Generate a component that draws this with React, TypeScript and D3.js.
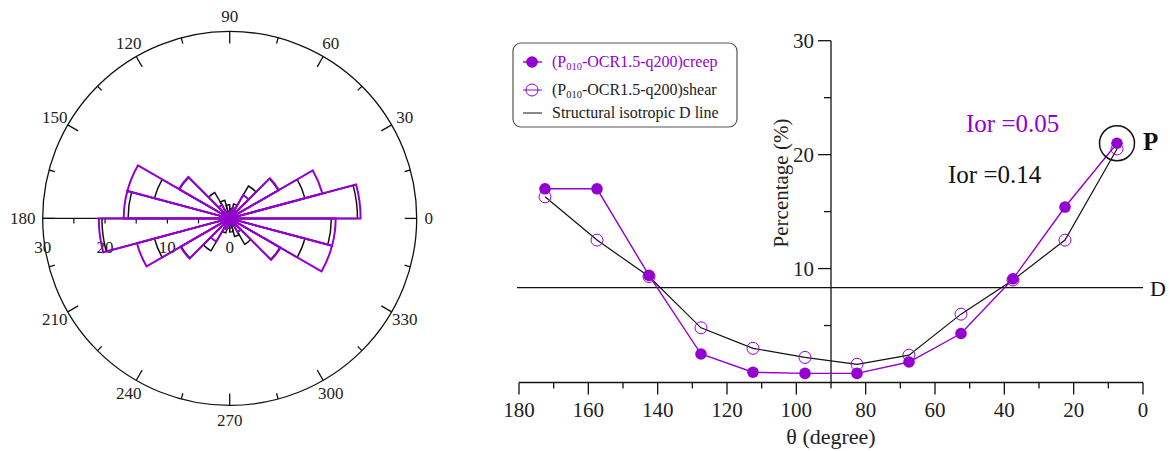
import React from "react";
import * as d3 from "d3";

// ---------- data ----------
const thetaCenters = [7.5, 22.5, 37.5, 52.5, 67.5, 82.5, 97.5, 112.5, 127.5, 142.5, 157.5, 172.5];
const creep = [21.0, 15.4, 9.1, 4.3, 1.8, 0.8, 0.8, 0.9, 2.5, 9.4, 17.0, 17.0];
const shear = [20.5, 12.5, 9.0, 6.0, 2.4, 1.6, 2.2, 3.0, 4.8, 9.3, 12.5, 16.3];
const binWidth = 15;
const isotropicD = 100 / 12;
const xTicks = [180, 170, 160, 150, 140, 130, 120, 110, 100, 90, 80, 70, 60, 50, 40, 30, 20, 10, 0];
const xTickLabels = [180, 160, 140, 120, 100, 80, 60, 40, 20, 0];
const yTicks = [5, 10, 15, 20, 25, 30];
const yTickLabels = [10, 20, 30];
const roseAngleTicks = d3.range(0, 360, 15);
const roseAngleLabels = [0, 30, 60, 90, 120, 150, 180, 210, 240, 270, 300, 330];
const roseRadialTicks = [5, 10, 15, 20, 25];
const roseRadialLabels = [0, 10, 20, 30];

const PURPLE = "#9400d0";
const FONT = "Liberation Serif, Times New Roman, DejaVu Serif, serif";

export default function App() {
  // ---------- rose ----------
  const cx = 229.7, cy = 218.4, R = 187;
  const rr = d3.scaleLinear().domain([0, 30]).range([0, R]);
  const toRad = (deg: number) => (deg * Math.PI) / 180;
  const petal = (thetaStart: number, v: number) =>
    d3.arc()({
      innerRadius: 0,
      outerRadius: rr(v),
      startAngle: Math.PI / 2 - toRad(thetaStart + binWidth),
      endAngle: Math.PI / 2 - toRad(thetaStart),
    } as any) as string;
  const pol = (deg: number, r: number) => [cx + r * Math.cos(toRad(deg)), cy - r * Math.sin(toRad(deg))];

  const petals = (vals: number[]) =>
    thetaCenters.flatMap((c, i) => {
      const s = c - binWidth / 2;
      return [petal(s, vals[i]), petal(s + 180, vals[i])];
    });

  // ---------- xy chart ----------
  const x = d3.scaleLinear().domain([180, 0]).range([519, 1143]);
  const y = d3.scaleLinear().domain([0, 30]).range([382.5, 40.7]);
  const line = d3
    .line<number>()
    .x((_, i) => x(thetaCenters[i]))
    .y((d) => y(d));

  const legendX = 513, legendY = 43;

  return (
    <svg
      width={1170}
      height={451}
      style={{ position: "absolute", left: 0, top: 0, background: "#fff", fontFamily: FONT }}
    >
      <rect width={1170} height={451} fill="#fff" />
      {/* ===== Rose diagram ===== */}
      <g>
        <circle cx={cx} cy={cy} r={R} fill="none" stroke="#111" strokeWidth={1.3} />
        {roseAngleTicks.map((a) => {
          const len = a % 30 === 0 ? 12 : 6;
          const [x1, y1] = pol(a, R);
          const [x2, y2] = pol(a, R - len);
          return <line key={a} x1={x1} y1={y1} x2={x2} y2={y2} stroke="#111" strokeWidth={1.3} />;
        })}
        {roseAngleLabels.map((a) => {
          const [tx, ty] = pol(a, a === 180 ? 207 : a === 0 ? 199 : 202);
          return (
            <text key={a} x={tx} y={ty} textAnchor="middle" dominantBaseline="central" fontSize={17} fill="#222">
              {a}
            </text>
          );
        })}
        {/* radial axis along 180 */}
        <line x1={cx - R} y1={cy} x2={cx} y2={cy} stroke="#111" strokeWidth={1.3} />
        {roseRadialTicks.map((t) => (
          <line key={t} x1={cx - rr(t)} y1={cy} x2={cx - rr(t)} y2={cy + 5} stroke="#111" strokeWidth={1.2} />
        ))}
        {roseRadialLabels.map((t) => (
          <text key={t} x={cx - rr(t)} y={cy + 29} textAnchor="middle" dominantBaseline="central" fontSize={17} fill="#222">
            {t}
          </text>
        ))}
        {petals(shear).map((d, i) => (
          <path key={"s" + i} d={d} transform={`translate(${cx},${cy})`} fill="none" stroke="#111" strokeWidth={1.5} />
        ))}
        {petals(creep).map((d, i) => (
          <path key={"c" + i} d={d} transform={`translate(${cx},${cy})`} fill="none" stroke={PURPLE} strokeWidth={2} strokeLinejoin="miter" />
        ))}
        <circle cx={cx} cy={cy} r={7.5} fill={PURPLE} />
      </g>

      {/* ===== XY chart ===== */}
      <g>
        {/* x axis */}
        <line x1={x(180)} y1={y(0)} x2={x(0)} y2={y(0)} stroke="#111" strokeWidth={1.3} />
        {xTicks.map((t) => (
          <line key={t} x1={x(t)} y1={y(0)} x2={x(t)} y2={y(0) + (t % 20 === 0 ? 12 : 6)} stroke="#111" strokeWidth={1.3} />
        ))}
        {xTickLabels.map((t) => (
          <text key={t} x={x(t)} y={417} textAnchor="middle" fontSize={21} fill="#222">
            {t}
          </text>
        ))}
        <text x={831} y={444} textAnchor="middle" fontSize={22} fill="#222">
          θ (degree)
        </text>
        {/* y axis at 90 */}
        <line x1={x(90)} y1={y(0)} x2={x(90)} y2={y(30)} stroke="#111" strokeWidth={1.3} />
        {yTicks.map((t) => (
          <line key={t} x1={x(90)} y1={y(t)} x2={x(90) - (t % 10 === 0 ? 13 : 7)} y2={y(t)} stroke="#111" strokeWidth={1.3} />
        ))}
        {yTickLabels.map((t) => (
          <text key={t} x={x(90) - 17} y={y(t)} textAnchor="end" dominantBaseline="central" fontSize={21} fill="#222">
            {t}
          </text>
        ))}
        <text
          transform={`translate(${781},${183}) rotate(-90)`}
          textAnchor="middle"
          dominantBaseline="central"
          fontSize={21}
          fill="#222"
        >
          Percentage (%)
        </text>
        {/* D line */}
        <line x1={517} y1={y(isotropicD)} x2={x(0)} y2={y(isotropicD)} stroke="#111" strokeWidth={1.3} />
        <text x={1150} y={y(isotropicD) + 8} fontSize={22} fill="#111">
          D
        </text>

        {/* shear series */}
        <path d={line(shear) as string} fill="none" stroke="#111" strokeWidth={1.2} />
        {shear.map((v, i) => (
          <circle key={"so" + i} cx={x(thetaCenters[i])} cy={y(v)} r={6} fill="none" stroke={PURPLE} strokeWidth={1} />
        ))}
        {/* creep series */}
        <path d={line(creep) as string} fill="none" stroke={PURPLE} strokeWidth={1.4} />
        {creep.map((v, i) => (
          <circle key={"co" + i} cx={x(thetaCenters[i])} cy={y(v)} r={5.8} fill={PURPLE} />
        ))}

        {/* annotations */}
        <circle cx={x(thetaCenters[0])} cy={y(creep[0])} r={17.5} fill="none" stroke="#111" strokeWidth={1.5} />
        <text x={1143} y={150} fontSize={25} fontWeight="bold" fill="#111">
          P
        </text>
        <text x={966} y={132} fontSize={25} fill={PURPLE}>
          Ior =0.05
        </text>
        <text x={948} y={183} fontSize={25} fill="#111">
          Ior =0.14
        </text>

        {/* legend */}
        <rect x={legendX} y={legendY} width={224} height={84} rx={8} ry={8} fill="#fff" stroke="#555" strokeWidth={1.2} />
        <line x1={523} y1={62} x2={542} y2={62} stroke={PURPLE} strokeWidth={1.4} />
        <circle cx={532} cy={62} r={5.8} fill={PURPLE} />
        <text x={552} y={67} fontSize={16} fill={PURPLE}>
          (P<tspan fontSize={10.5} dy={3}>010</tspan>
          <tspan dy={-3}>-OCR1.5-q200)creep</tspan>
        </text>
        <line x1={523} y1={90} x2={542} y2={90} stroke={PURPLE} strokeWidth={1} />
        <circle cx={532} cy={90} r={6} fill="none" stroke={PURPLE} strokeWidth={1} />
        <text x={552} y={95} fontSize={16} fill="#222">
          (P<tspan fontSize={10.5} dy={3}>010</tspan>
          <tspan dy={-3}>-OCR1.5-q200)shear</tspan>
        </text>
        <line x1={523} y1={113} x2={542} y2={113} stroke="#111" strokeWidth={1} />
        <text x={552} y={118} fontSize={16} fill="#222">
          Structural isotropic D line
        </text>
      </g>
    </svg>
  );
}
